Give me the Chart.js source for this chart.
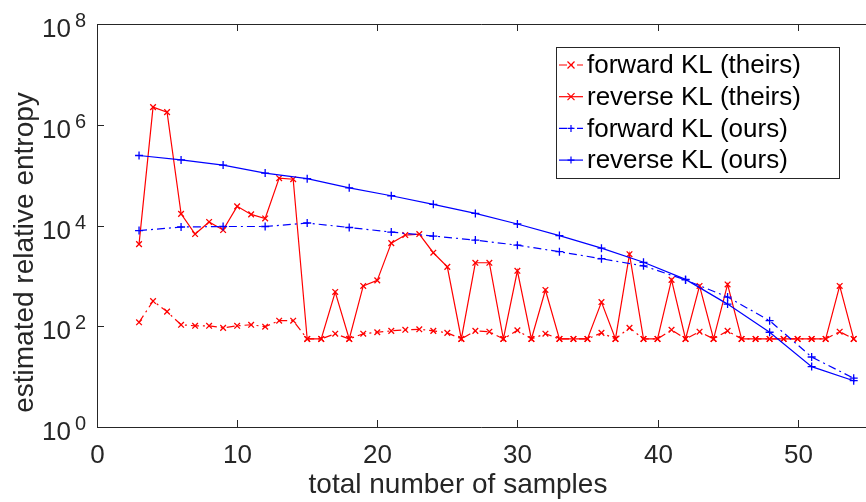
<!DOCTYPE html>
<html>
<head>
<meta charset="utf-8">
<script src="https://cdn.jsdelivr.net/npm/chart.js@4.4.1/dist/chart.umd.min.js"></script>
<style>
  html, body { margin: 0; padding: 0; background: #fff; }
  #wrap { width: 866px; height: 502px; }
</style>
</head>
<body>
<div id="wrap"><canvas id="kl" width="866" height="502"></canvas></div>
<script>
// sample counts
const xTheirs = [3,4,5,6,7,8,9,10,11,12,13,14,15,16,17,18,19,20,21,22,23,24,25,26,27,28,
  29,30,31,32,33,34,35,36,37,38,39,40,41,42,43,44,45,46,47,48,49,50,51,52,53,54];
const xOurs = [3,6,9,12,15,18,21,24,27,30,33,36,39,42,45,48,51,54];

// estimated relative entropy
const fwdTheirs = [120,316,195,107,102,102,93,102,107,98,129,129,56,56,71,56,71,76,81,85,87,81,74,56,81,78,
  56,83,56,71,56,56,56,74,56,93,56,56,85,56,78,56,81,56,56,56,56,56,56,56,78,56];
const revTheirs = [4270,2240000,1780000,17000,6760,11750,8130,24000,16600,13800,87000,83000,56,56,479,56,631,813,4470,6460,6760,2880,1510,56,1820,1820,
  56,1260,56,525,56,56,56,302,56,2690,56,56,832,56,631,56,676,56,56,56,56,56,56,56,631,56];
const fwdOurs = [7940,9330,9550,9550,11200,9120,7410,6170,5130,4070,3020,2190,1580,832,380,129,24.5,9.3];
const revOurs = [245000,200000,158000,110000,85000,56000,39000,26300,17400,10700,6310,3550,1860,851,275,76,15.8,8.3];

const seriesNames = ["forward KL (theirs)", "reverse KL (theirs)", "forward KL (ours)", "reverse KL (ours)"];
const xTickValues = [0, 10, 20, 30, 40, 50];
const yTickPowers = [0, 2, 4, 6, 8];

const FONT = '"Liberation Sans", Arial, Helvetica, sans-serif';
const INK = '#262626';
const RED = '#ff0000';
const BLUE = '#0000ff';
const DASHDOT = [8, 4, 2, 4];

const pts = (xs, ys) => xs.map((v, i) => ({ x: v, y: ys[i] }));

function marker(ctx, style, cx, cy, r) {
  ctx.beginPath();
  if (style === 'crossRot') {
    ctx.moveTo(cx - r, cy - r); ctx.lineTo(cx + r, cy + r);
    ctx.moveTo(cx - r, cy + r); ctx.lineTo(cx + r, cy - r);
  } else {
    ctx.moveTo(cx - r, cy); ctx.lineTo(cx + r, cy);
    ctx.moveTo(cx, cy - r); ctx.lineTo(cx, cy + r);
  }
  ctx.stroke();
}

const axesPlugin = {
  id: 'matlabAxes',
  afterDraw(chart) {
    const { ctx, chartArea: a, scales: { x, y } } = chart;
    const W = chart.width;
    ctx.save();
    ctx.strokeStyle = INK;
    ctx.fillStyle = INK;
    ctx.lineWidth = 1;
    ctx.setLineDash([]);

    // box
    ctx.beginPath();
    ctx.moveTo(a.left + 0.5, a.top + 0.5);
    ctx.lineTo(a.left + 0.5, a.bottom + 0.5);
    ctx.lineTo(W, a.bottom + 0.5);
    ctx.moveTo(a.left + 0.5, a.top + 0.5);
    ctx.lineTo(W, a.top + 0.5);
    ctx.stroke();

    // x ticks
    ctx.font = '26px ' + FONT;
    ctx.textAlign = 'center';
    ctx.textBaseline = 'alphabetic';
    xTickValues.forEach(v => {
      const px = Math.round(x.getPixelForValue(v)) + 0.5;
      ctx.beginPath();
      ctx.moveTo(px, a.bottom); ctx.lineTo(px, a.bottom - 7);
      ctx.moveTo(px, a.top); ctx.lineTo(px, a.top + 7);
      ctx.stroke();
      ctx.fillText(String(v), px, 463);
    });

    // y ticks, 10^n labels
    yTickPowers.forEach(p => {
      const py = Math.round(y.getPixelForValue(Math.pow(10, p))) + 0.5;
      ctx.beginPath();
      ctx.moveTo(a.left, py); ctx.lineTo(a.left + 7, py);
      ctx.stroke();
      ctx.textAlign = 'right';
      ctx.font = '26px ' + FONT;
      ctx.fillText('10', 71, py + 12);
      ctx.textAlign = 'left';
      ctx.font = '20px ' + FONT;
      ctx.fillText(String(p), 75, py + 2);
    });

    // axis titles
    ctx.font = '28px ' + FONT;
    ctx.textAlign = 'center';
    ctx.fillText('total number of samples', 458, 493);
    ctx.save();
    ctx.translate(33, 252.5);
    ctx.rotate(-Math.PI / 2);
    ctx.fillText('estimated relative entropy', 0, 0);
    ctx.restore();

    // legend
    const bx = 556.5, by = 47.5, bw = 283, bh = 131;
    ctx.fillStyle = '#fff';
    ctx.fillRect(bx, by, bw, bh);
    ctx.strokeStyle = INK;
    ctx.strokeRect(bx, by, bw, bh);
    ctx.font = '26px ' + FONT;
    ctx.textAlign = 'left';
    ctx.textBaseline = 'middle';
    chart.data.datasets.forEach((ds, i) => {
      const cy = 65 + i * 31.7;
      ctx.strokeStyle = ds.borderColor;
      ctx.lineWidth = 1.2;
      ctx.setLineDash(ds.borderDash || []);
      ctx.beginPath();
      ctx.moveTo(559, cy); ctx.lineTo(583, cy);
      ctx.stroke();
      ctx.setLineDash([]);
      marker(ctx, ds.pointStyle, 571, cy, 3.5);
      ctx.fillStyle = '#000';
      ctx.fillText(ds.label, 587, cy + 1);
    });
    ctx.restore();
  }
};

new Chart(document.getElementById('kl'), {
  type: 'line',
  data: {
    datasets: [
      { label: seriesNames[0], data: pts(xTheirs, fwdTheirs), borderColor: RED, borderDash: DASHDOT, pointStyle: 'crossRot', order: 3 },
      { label: seriesNames[1], data: pts(xTheirs, revTheirs), borderColor: RED, pointStyle: 'crossRot', order: 2 },
      { label: seriesNames[2], data: pts(xOurs, fwdOurs), borderColor: BLUE, borderDash: DASHDOT, pointStyle: 'cross', order: 1 },
      { label: seriesNames[3], data: pts(xOurs, revOurs), borderColor: BLUE, pointStyle: 'cross', order: 0 }
    ].map(ds => Object.assign({
      borderWidth: 1.2,
      pointRadius: 4,
      pointBorderWidth: 1.3,
      pointBorderColor: ds.borderColor,
      pointBackgroundColor: ds.borderColor,
      fill: false,
      tension: 0
    }, ds))
  },
  options: {
    responsive: false,
    devicePixelRatio: 1,
    animation: false,
    events: [],
    layout: { padding: { left: 97, top: 24, right: 0, bottom: 75 } },
    plugins: { legend: { display: false }, tooltip: { enabled: false } },
    scales: {
      x: { type: 'linear', min: 0, max: 54.5, display: false },
      y: { type: 'logarithmic', min: 1, max: 1e8, display: false }
    }
  },
  plugins: [axesPlugin]
});
</script>
</body>
</html>
